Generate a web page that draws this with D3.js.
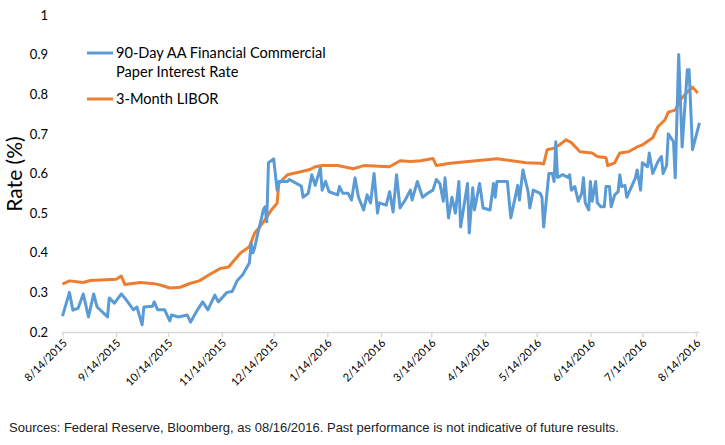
<!DOCTYPE html>
<html lang="en">
<head>
  <meta charset="UTF-8">
  <title>CP Rate vs LIBOR</title>
  <style>
    body { margin: 0; background: #fff; }
    svg { display: block; }
    .tick text { font-family: Lato, "Open Sans", sans-serif; fill: #000; }
    .legend text { font-family: Lato, "Open Sans", sans-serif; font-size: 14.6px; fill: #000; }
    .line { fill: none; stroke-width: 3px; stroke-linejoin: round; }
  </style>
</head>
<body>
  <svg width="725" height="445"></svg>
  <script src="https://d3js.org/d3.v7.min.js"></script>
  <script>
    // 90-Day AA Financial Commercial Paper Interest Rate
    const cpDates = ["8/14/2015","8/18/2015","8/20/2015","8/23/2015","8/26/2015","8/29/2015","9/1/2015","9/3/2015","9/9/2015","9/10/2015",
      "9/13/2015","9/17/2015","9/19/2015","9/22/2015","9/24/2015","9/26/2015","9/29/2015","9/30/2015","10/5/2015","10/6/2015",
      "10/8/2015","10/12/2015","10/15/2015","10/16/2015","10/20/2015","10/25/2015","10/27/2015","10/31/2015","11/3/2015","11/6/2015",
      "11/10/2015","11/12/2015","11/17/2015","11/20/2015","11/23/2015","11/26/2015","11/30/2015","12/1/2015","12/2/2015","12/3/2015",
      "12/5/2015","12/7/2015","12/8/2015","12/9/2015","12/10/2015","12/11/2015","12/14/2015","12/16/2015","12/17/2015","12/22/2015",
      "12/23/2015","12/30/2015","12/31/2015","1/3/2016","1/5/2016","1/7/2016","1/10/2016","1/11/2016","1/13/2016","1/15/2016",
      "1/20/2016","1/21/2016","1/23/2016","1/26/2016","1/28/2016","1/30/2016","2/1/2016","2/4/2016","2/6/2016","2/8/2016",
      "2/10/2016","2/12/2016","2/13/2016","2/17/2016","2/19/2016","2/21/2016","2/23/2016","2/25/2016","2/28/2016","3/2/2016",
      "3/3/2016","3/6/2016","3/9/2016","3/12/2016","3/15/2016","3/17/2016","3/19/2016","3/21/2016","3/22/2016","3/24/2016",
      "3/26/2016","3/28/2016","3/30/2016","3/31/2016","4/4/2016","4/5/2016","4/7/2016","4/8/2016","4/11/2016","4/13/2016",
      "4/17/2016","4/19/2016","4/20/2016","4/21/2016","4/27/2016","4/29/2016","5/3/2016","5/4/2016","5/6/2016","5/9/2016",
      "5/10/2016","5/12/2016","5/16/2016","5/17/2016","5/18/2016","5/21/2016","5/23/2016","5/24/2016","5/25/2016","5/26/2016",
      "5/29/2016","6/1/2016","6/2/2016","6/3/2016","6/5/2016","6/7/2016","6/9/2016","6/10/2016","6/11/2016","6/13/2016",
      "6/14/2016","6/15/2016","6/17/2016","6/18/2016","6/20/2016","6/22/2016","6/23/2016","6/25/2016","6/26/2016","6/28/2016",
      "6/30/2016","7/1/2016","7/2/2016","7/4/2016","7/5/2016","7/10/2016","7/11/2016","7/13/2016","7/14/2016","7/17/2016",
      "7/18/2016","7/20/2016","7/23/2016","7/25/2016","7/26/2016","7/28/2016","7/29/2016","8/1/2016","8/2/2016","8/4/2016",
      "8/6/2016","8/9/2016","8/10/2016","8/12/2016","8/16/2016"];
    const cpValues = [0.24,0.30,0.255,0.26,0.296,0.238,0.296,0.263,0.238,0.286,
      0.273,0.296,0.286,0.268,0.256,0.263,0.218,0.263,0.265,0.276,
      0.256,0.256,0.228,0.243,0.238,0.243,0.225,0.256,0.276,0.256,
      0.293,0.276,0.30,0.302,0.33,0.344,0.375,0.424,0.40,0.412,
      0.452,0.488,0.508,0.516,0.478,0.627,0.637,0.558,0.58,0.58,
      0.585,0.568,0.54,0.55,0.597,0.57,0.614,0.558,0.58,0.554,
      0.546,0.567,0.55,0.55,0.533,0.589,0.54,0.508,0.546,0.526,
      0.60,0.50,0.526,0.52,0.554,0.503,0.597,0.513,0.533,0.558,
      0.533,0.58,0.54,0.55,0.558,0.585,0.575,0.53,0.589,0.488,
      0.54,0.50,0.58,0.465,0.575,0.45,0.564,0.508,0.575,0.513,
      0.508,0.575,0.54,0.58,0.58,0.488,0.57,0.533,0.609,0.554,
      0.513,0.558,0.55,0.54,0.465,0.60,0.60,0.58,0.68,0.59,
      0.597,0.59,0.597,0.558,0.567,0.53,0.55,0.589,0.526,0.508,
      0.58,0.53,0.58,0.526,0.516,0.516,0.567,0.567,0.516,0.546,
      0.554,0.597,0.567,0.57,0.54,0.589,0.609,0.558,0.627,0.617,
      0.652,0.60,0.63,0.643,0.60,0.62,0.70,0.68,0.589,0.90,
      0.667,0.862,0.862,0.66,0.728];

    // 3-Month LIBOR
    const liborDates = ["8/14/2015","8/18/2015","8/26/2015","8/30/2015","9/8/2015","9/14/2015","9/17/2015","9/19/2015","9/28/2015","10/6/2015",
      "10/10/2015","10/15/2015","10/21/2015","10/27/2015","11/1/2015","11/7/2015","11/13/2015","11/18/2015","11/21/2015","11/25/2015",
      "11/30/2015","12/3/2015","12/6/2015","12/10/2015","12/13/2015","12/16/2015","12/17/2015","12/22/2015","12/29/2015","1/4/2016",
      "1/7/2016","1/11/2016","1/20/2016","1/29/2016","2/4/2016","2/19/2016","2/25/2016","3/2/2016","3/8/2016","3/15/2016",
      "3/17/2016","3/25/2016","4/21/2016","5/8/2016","5/16/2016","5/18/2016","5/20/2016","5/24/2016","5/27/2016","5/31/2016",
      "6/3/2016","6/8/2016","6/15/2016","6/18/2016","6/23/2016","6/24/2016","6/28/2016","7/1/2016","7/6/2016","7/11/2016",
      "7/14/2016","7/20/2016","7/23/2016","7/27/2016","7/29/2016","8/2/2016","8/5/2016","8/9/2016","8/12/2016","8/15/2016"];
    const liborValues = [0.321,0.329,0.325,0.33,0.332,0.333,0.341,0.32,0.325,0.322,
      0.318,0.311,0.313,0.323,0.329,0.345,0.36,0.364,0.38,0.40,
      0.415,0.45,0.465,0.49,0.51,0.525,0.575,0.597,0.604,0.61,
      0.617,0.62,0.62,0.612,0.62,0.617,0.632,0.63,0.632,0.638,
      0.62,0.626,0.637,0.627,0.626,0.624,0.66,0.664,0.672,0.685,
      0.678,0.655,0.652,0.643,0.64,0.62,0.627,0.652,0.655,0.667,
      0.672,0.69,0.718,0.735,0.755,0.76,0.786,0.806,0.818,0.803];

    const yTicks = [0.2, 0.3, 0.4, 0.5, 0.6, 0.7, 0.8, 0.9, 1];
    const xTicks = ["8/14/2015","9/14/2015","10/14/2015","11/14/2015","12/14/2015","1/14/2016","2/14/2016",
      "3/14/2016","4/14/2016","5/14/2016","6/14/2016","7/14/2016","8/14/2016"];

    const seriesNames = ["90-Day AA Financial Commercial|Paper Interest Rate", "3-Month LIBOR"];
    const colors = ["#5b9bd5", "#ed7d31"];

    const parse = d3.timeParse("%m/%d/%Y");
    const svg = d3.select("svg");

    const x = d3.scaleTime()
      .domain([parse("8/14/2015"), parse("8/14/2016")])
      .range([62.5, 696]);
    const y = d3.scaleLinear().domain([0.2, 1]).range([332, 15]);

    const cp = cpDates.map((d, i) => ({ date: parse(d), value: cpValues[i] }));
    const libor = liborDates.map((d, i) => ({ date: parse(d), value: liborValues[i] }));

    // y axis (labels only)
    const yAxis = svg.append("g")
      .attr("transform", "translate(56,0)")
      .call(d3.axisLeft(y).tickValues(yTicks).tickSize(0).tickPadding(8).tickFormat(d3.format("~g")));
    yAxis.select(".domain").remove();
    yAxis.selectAll("text").style("font-size", "13px");

    // x axis
    svg.append("line")
      .attr("x1", 62).attr("x2", 699)
      .attr("y1", 332.5).attr("y2", 332.5)
      .attr("stroke", "#d9d9d9").attr("stroke-width", 1.5);

    const xAxis = svg.append("g")
      .attr("transform", "translate(0,332)")
      .call(d3.axisBottom(x).tickValues(xTicks.map(parse)).tickSize(5).tickFormat(d3.timeFormat("%-m/%-d/%Y")));
    xAxis.select(".domain").remove();
    xAxis.selectAll("line").attr("stroke", "#d9d9d9").attr("stroke-width", 1.5);
    xAxis.selectAll("text")
      .style("font-size", "11px")
      .style("text-anchor", "end")
      .attr("dy", "0.35em")
      .attr("transform", "translate(2,9) rotate(-45)")
      .attr("y", 0).attr("x", 0);

    // y title
    svg.append("text")
      .attr("transform", "translate(22,174) rotate(-90)")
      .attr("text-anchor", "middle")
      .style("font-family", "Lato, 'Open Sans', sans-serif")
      .style("font-size", "21px")
      .text("Rate (%)");

    // lines
    const line = d3.line().x(d => x(d.date)).y(d => y(d.value));
    svg.append("path").datum(libor).attr("class", "line").attr("stroke", colors[1]).attr("d", line);
    svg.append("path").datum(cp).attr("class", "line").attr("stroke", colors[0]).attr("d", line);

    // legend
    const legend = svg.append("g").attr("class", "legend");
    const legendY = [53, 99];
    seriesNames.forEach((name, i) => {
      legend.append("line")
        .attr("x1", 87).attr("x2", 113)
        .attr("y1", legendY[i]).attr("y2", legendY[i])
        .attr("stroke", colors[i]).attr("stroke-width", 3);
      const t = legend.append("text").attr("x", 116).attr("y", legendY[i] + 5);
      name.split("|").forEach((part, j) => {
        t.append("tspan").attr("x", 116).attr("dy", j === 0 ? 0 : 19).text(part);
      });
    });

    // footer
    svg.append("text")
      .attr("x", 9).attr("y", 432)
      .style("font-family", "'Liberation Sans', Arial, sans-serif")
      .style("font-size", "13px")
      .style("fill", "#222")
      .text("Sources: Federal Reserve, Bloomberg, as 08/16/2016. Past performance is not indicative of future results.");
  </script>
</body>
</html>
